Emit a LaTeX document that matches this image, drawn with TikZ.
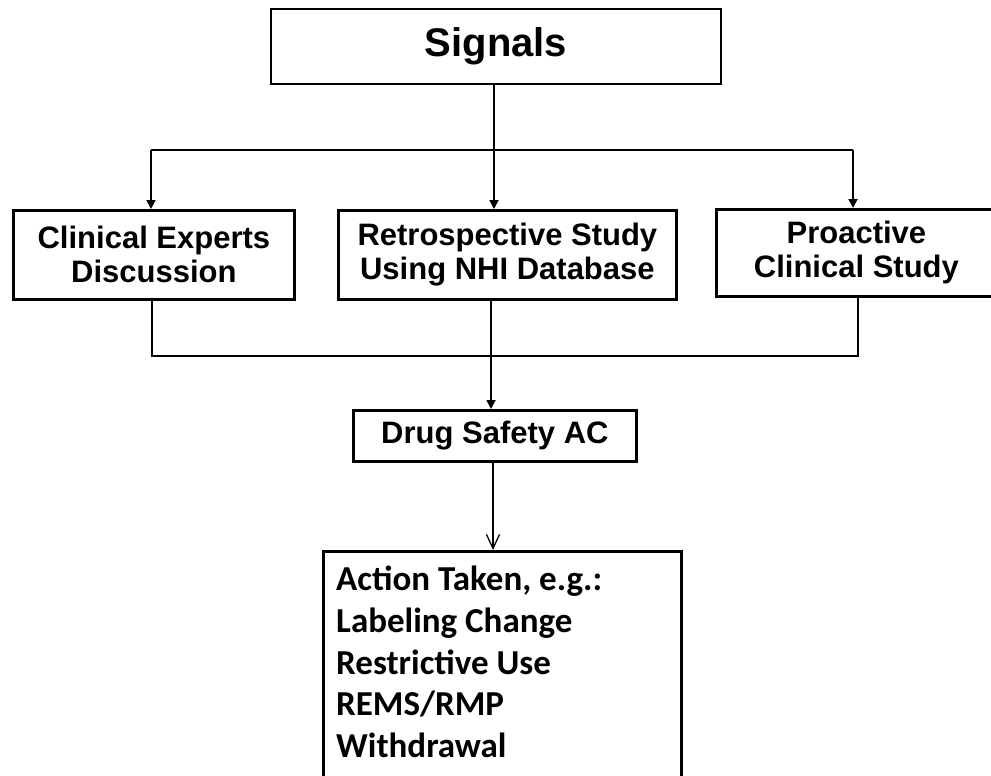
\documentclass[tikz,border=0pt]{standalone}
\usepackage{fontspec}
\setmainfont{Liberation Sans}
\newfontfamily\calib{Carlito}
\usetikzlibrary{arrows.meta}
\begin{document}
\begin{tikzpicture}[x=1pt,y=-1pt,
  boxstyle/.style={draw=black, line width=2.8pt, inner sep=0pt, align=center,
    anchor=north west, font=\fontsize{31}{34}\selectfont\bfseries},
  conn/.style={line width=1.8pt},
  arr/.style={conn, -{Triangle[length=9pt,width=9pt]}},
  openarr/.style={line width=1.3pt, -{Straight Barb[length=14pt,width=13pt,line width=1.3pt]}},
]
\useasboundingbox[fill=white] (0,0) rectangle (991,776);
% boxes
\node[boxstyle, line width=2pt, minimum width=450pt, minimum height=75pt,
      font=\fontsize{40}{44}\selectfont\bfseries] (sig) at (270,8) {Signals};
\node[boxstyle, minimum width=281pt, minimum height=89pt] (cl) at (12,209) {Clinical Experts\\Discussion};
\node[boxstyle, minimum width=338pt, minimum height=89pt] (re) at (337,209) {Retrospective Study\\Using NHI Database};
\node[boxstyle, minimum width=280pt, minimum height=87pt] (pr) at (715,208) {Proactive\\Clinical Study};
\node[boxstyle, minimum width=283pt, minimum height=51pt] (ds) at (352,409) {Drug Safety AC};
\node[boxstyle, minimum width=358pt, minimum height=240pt] (act) at (322,550) {};
\node[anchor=north west, align=left, inner sep=0pt,
      font=\calib\fontsize{35}{41.7}\selectfont\bfseries] (acttxt) at (336,566)
  {Action Taken, e.g.:\\Labeling Change\\Restrictive Use\\REMS/RMP\\Withdrawal};
% junctions
\coordinate (j0) at (494,150);
\coordinate (jl) at (151,150);
\coordinate (jr) at (853,150);
\coordinate (m0) at (491,356);
\coordinate (ml) at (152,356);
\coordinate (mr) at (858,356);
\coordinate (d0) at (493,460);
% connectors
\draw[conn] (sig.south -| j0) -- (j0);
\draw[conn] (jl) -- (jr);
\draw[arr] (jl) -- (jl |- cl.north);
\draw[arr] (j0) -- (j0 |- re.north);
\draw[arr] (jr) -- (jr |- pr.north);
\draw[conn] (ml |- cl.south) -- (ml) -- (mr) -- (mr |- pr.south);
\draw[arr] (m0 |- re.south) -- (m0 |- ds.north);
\draw[openarr] (d0 |- ds.south) -- (d0 |- act.north);
\end{tikzpicture}
\end{document}
